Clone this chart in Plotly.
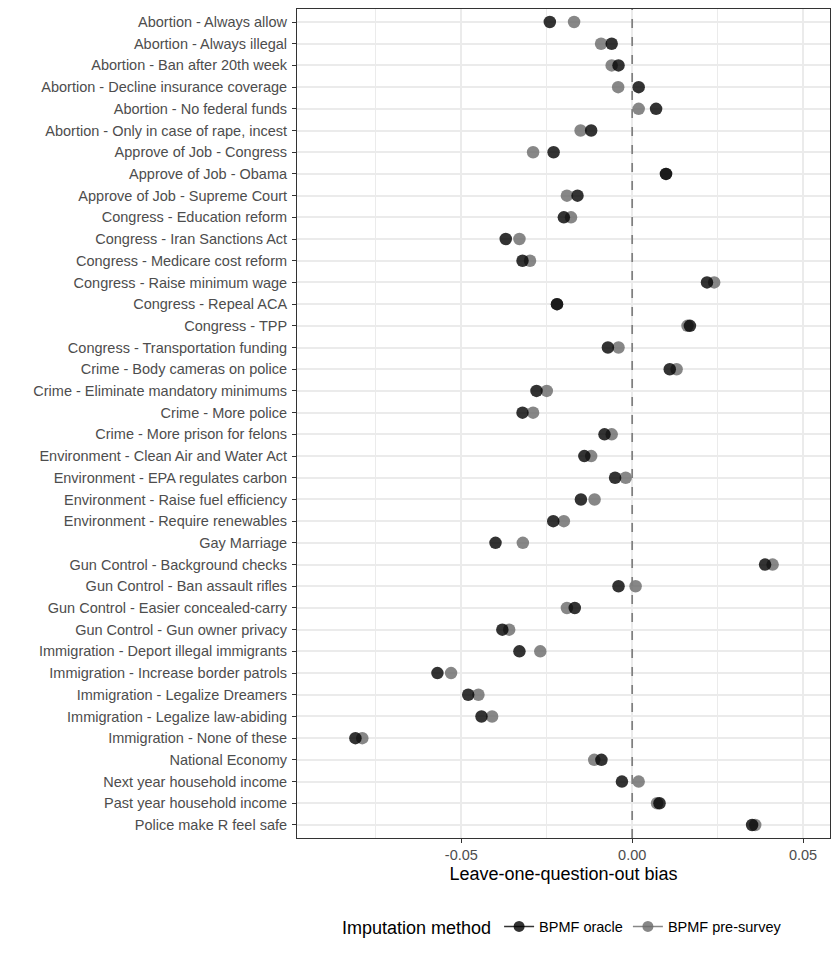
import plotly.graph_objects as go

questions = [
    "Abortion - Always allow",
    "Abortion - Always illegal",
    "Abortion - Ban after 20th week",
    "Abortion - Decline insurance coverage",
    "Abortion - No federal funds",
    "Abortion - Only in case of rape, incest",
    "Approve of Job - Congress",
    "Approve of Job - Obama",
    "Approve of Job - Supreme Court",
    "Congress - Education reform",
    "Congress - Iran Sanctions Act",
    "Congress - Medicare cost reform",
    "Congress - Raise minimum wage",
    "Congress - Repeal ACA",
    "Congress - TPP",
    "Congress - Transportation funding",
    "Crime - Body cameras on police",
    "Crime - Eliminate mandatory minimums",
    "Crime - More police",
    "Crime - More prison for felons",
    "Environment - Clean Air and Water Act",
    "Environment - EPA regulates carbon",
    "Environment - Raise fuel efficiency",
    "Environment - Require renewables",
    "Gay Marriage",
    "Gun Control - Background checks",
    "Gun Control - Ban assault rifles",
    "Gun Control - Easier concealed-carry",
    "Gun Control - Gun owner privacy",
    "Immigration - Deport illegal immigrants",
    "Immigration - Increase border patrols",
    "Immigration - Legalize Dreamers",
    "Immigration - Legalize law-abiding",
    "Immigration - None of these",
    "National Economy",
    "Next year household income",
    "Past year household income",
    "Police make R feel safe",
]

bias_oracle = [
    -0.0241, -0.0060, -0.0040, 0.0019, 0.0070, -0.0120, -0.0230, 0.0099,
    -0.0160, -0.0200, -0.0370, -0.0321, 0.0219, -0.0220, 0.0169, -0.0071,
    0.0110, -0.0280, -0.0321, -0.0081, -0.0140, -0.0050, -0.0150, -0.0231,
    -0.0400, 0.0389, -0.0040, -0.0168, -0.0380, -0.0330, -0.0570, -0.0480,
    -0.0441, -0.0810, -0.0090, -0.0030, 0.0080, 0.0351,
]

bias_presurvey = [
    -0.0170, -0.0091, -0.0060, -0.0041, 0.0019, -0.0151, -0.0290, 0.0099,
    -0.0191, -0.0179, -0.0330, -0.0299, 0.0240, -0.0220, 0.0162, -0.0040,
    0.0130, -0.0250, -0.0290, -0.0060, -0.0120, -0.0019, -0.0110, -0.0200,
    -0.0320, 0.0411, 0.0010, -0.0191, -0.0360, -0.0269, -0.0530, -0.0450,
    -0.0410, -0.0790, -0.0111, 0.0019, 0.0073, 0.0360,
]

fig = go.Figure()

# pre-survey drawn first so the oracle points sit on top
fig.add_trace(go.Scatter(x=bias_presurvey, y=questions, mode="markers",
                         marker=dict(size=12.5, color="rgba(105,105,105,0.8)"),
                         name="BPMF pre-survey", showlegend=False))
fig.add_trace(go.Scatter(x=bias_oracle, y=questions, mode="markers",
                         marker=dict(size=12.5, color="rgba(0,0,0,0.8)"),
                         name="BPMF oracle", showlegend=False))

# legend keys (point + line, like the ggplot key)
fig.add_trace(go.Scatter(x=[None], y=[None], mode="lines+markers",
                         marker=dict(size=11, color="rgba(0,0,0,0.8)"),
                         line=dict(color="rgba(0,0,0,0.8)", width=1.5),
                         name="BPMF oracle"))
fig.add_trace(go.Scatter(x=[None], y=[None], mode="lines+markers",
                         marker=dict(size=11, color="rgba(105,105,105,0.8)"),
                         line=dict(color="rgba(105,105,105,0.8)", width=1.5),
                         name="BPMF pre-survey"))

fig.add_vline(x=0, line=dict(color="#7f7f7f", width=1.7, dash="dash"))

font = "Liberation Sans, Arial, sans-serif"

fig.update_layout(
    width=832, height=952,
    margin=dict(l=289, r=10, t=1, b=122),
    plot_bgcolor="white", paper_bgcolor="white",
    font=dict(family=font, color="black"),
    legend=dict(orientation="h", x=0.5, xanchor="center", y=-0.108, yanchor="middle",
                title=dict(text="Imputation method", font=dict(size=18, color="black")),
                font=dict(size=14.5, color="black"), itemwidth=30),
    xaxis=dict(
        range=[-0.0981, 0.0579],
        tickvals=[-0.05, 0.0, 0.05], ticktext=["-0.05", "0.00", "0.05"],
        tickfont=dict(size=14.5, color="#4d4d4d"),
        ticks="outside", ticklen=4, tickcolor="#333333",
        showgrid=True, gridcolor="#ebebeb", gridwidth=1.5,
        minor=dict(tickvals=[-0.075, -0.025, 0.025], showgrid=True,
                   gridcolor="#ebebeb", gridwidth=0.8, ticklen=0),
        zeroline=False,
        showline=True, mirror=True, linecolor="#333333", linewidth=1,
        title=dict(text="Leave-one-question-out bias", font=dict(size=18, color="black"),
                   standoff=4),
        automargin=False,
    ),
    yaxis=dict(
        categoryorder="array", categoryarray=questions,
        range=[len(questions) - 0.4, -0.6],
        tickfont=dict(size=14.5, color="#4d4d4d"),
        ticks="outside", ticklen=4, tickcolor="#333333",
        ticklabelstandoff=2,
        showgrid=True, gridcolor="#ebebeb", gridwidth=1.5,
        zeroline=False,
        showline=True, mirror=True, linecolor="#333333", linewidth=1,
        automargin=False,
    ),
)

fig.write_html("out.html")
